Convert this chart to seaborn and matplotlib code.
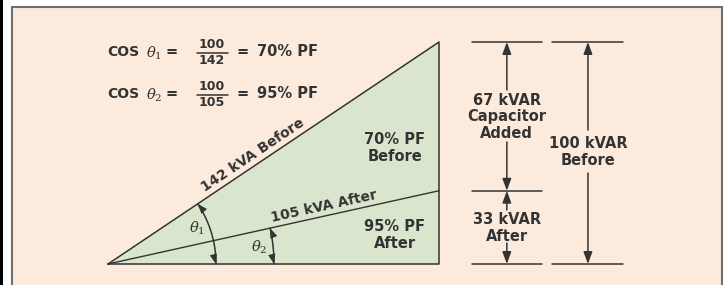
# Power factor correction triangle (kVA / kVAR) recreated with seaborn + matplotlib
import numpy as np
import matplotlib
matplotlib.use("Agg")
import matplotlib.pyplot as plt
from matplotlib.patches import Rectangle
import seaborn as sns

sns.set_theme(style="white")
plt.rcParams['font.family'] = ['DejaVu Sans']
plt.rcParams['mathtext.fontset'] = 'dejavuserif'

# ========== data ==========
kw = 100                      # real power, kW
kva = [142, 105]              # apparent power before / after
kvar = [100, 33]              # reactive power before / after
kvar_added = 67               # capacitor kVAR added
pf = [70, 95]                 # power factor %
states = ["Before", "After"]

# ========== layout (pixel -> data scale) ==========
SX, SY = 3.31, 2.22           # px per unit
X0, Y0 = 108, 264             # pixel position of the triangle's origin
W, H = 724, 285

def px(x, y):
    return (x - X0) / SX, (Y0 - y) / SY

INK = '#333333'
PEACH = '#FCEBDD'
GREEN = '#D9E6CD'

fig = plt.figure(figsize=(W / 100, H / 100), dpi=100)
ax = fig.add_axes([0, 0, 1, 1])
ax.set_xlim(px(0, 0)[0], px(W, 0)[0])
ax.set_ylim(px(0, H)[1], px(0, 0)[1])
ax.axis('off')

# frame
bx0, by0 = px(12, 292)
bx1, by1 = px(722, 7)
ax.add_patch(Rectangle((bx0, by0), bx1 - bx0, by1 - by0, facecolor=PEACH,
                       edgecolor='#6e6e6e', lw=1.5, zorder=0))
lx0, ly0 = px(0, H)
lx1, ly1 = px(3, 0)
ax.add_patch(Rectangle((lx0, ly0), lx1 - lx0, ly1 - ly0, facecolor='black',
                       edgecolor='none', zorder=0))

# triangle
ax.fill([0, kw, kw], [0, 0, kvar[0]], color=GREEN, zorder=1, lw=0)
sns.lineplot(x=[0, kw, kw, 0], y=[0, 0, kvar[0], 0], sort=False, estimator=None,
             color=INK, lw=1.1, ax=ax, zorder=2)
sns.lineplot(x=[0, kw], y=[0, kvar[1]], sort=False, estimator=None,
             color=INK, lw=1.0, ax=ax, zorder=2)

tfont = dict(color=INK, fontweight='bold', fontsize=10.5)

# hypotenuse labels
for i, k in enumerate(kva):
    ang = np.degrees(np.arctan2(kvar[i] * SY, kw * SX))
    cx = [258, 326][i]
    t = (cx - X0) / (kw * SX)
    lx, ly = t * kw, t * kvar[i]
    off = 2.5
    lx += -off * np.sin(np.radians(ang)) / SX
    ly += off * np.cos(np.radians(ang)) / SY
    ax.text(lx, ly, f"{k} kVA {states[i]}", rotation=ang, rotation_mode='anchor',
            ha='center', va='bottom', color=INK, fontweight='bold', fontsize=10)

# angle arcs
radii = [108, 166]
for i in range(2):
    ang = np.arctan2(kvar[i] * SY, kw * SX)
    t = np.linspace(0, ang, 60)
    ax.plot(radii[i] * np.cos(t) / SX, radii[i] * np.sin(t) / SY, color=INK, lw=1.1, zorder=3)
    for a0, a1 in [(ang * 0.75, ang), (ang * 0.25, 0)]:
        ax.annotate('', xy=(radii[i] * np.cos(a1) / SX, radii[i] * np.sin(a1) / SY),
                    xytext=(radii[i] * np.cos(a0) / SX, radii[i] * np.sin(a0) / SY),
                    arrowprops=dict(arrowstyle='-|>,head_length=0.6,head_width=0.22',
                                    color=INK, lw=0, shrinkA=0, shrinkB=0,
                                    connectionstyle='arc3,rad=0.1'),
                    zorder=3)
ax.text(*px(197, 228), r'$\theta_1$', ha='center', va='center', color=INK, fontsize=10.5)
ax.text(*px(259, 247), r'$\theta_2$', ha='center', va='center', color=INK, fontsize=10.5)

# PF labels inside the triangle
ax.text(*px(395, 148), f"{pf[0]}% PF\n{states[0]}", ha='center', va='center',
        linespacing=1.1, **tfont)
ax.text(*px(395, 235), f"{pf[1]}% PF\n{states[1]}", ha='center', va='center',
        linespacing=1.1, **tfont)

# cos formulas
for i, yy in enumerate([52, 94]):
    ax.text(*px(107, yy), "COS", ha='left', va='center', color=INK,
            fontweight='bold', fontsize=10)
    ax.text(*px(146, yy + 1), rf'$\theta_{i + 1}$', ha='left', va='center',
            color=INK, fontsize=10.5)
    ax.text(*px(172, yy), "=", ha='center', va='center', **tfont)
    ax.text(*px(212, yy - 7), f"{kw}", ha='center', va='center', color=INK,
            fontweight='bold', fontsize=9)
    ax.text(*px(212, yy + 8), f"{kva[i]}", ha='center', va='center', color=INK,
            fontweight='bold', fontsize=9)
    fx0, fy = px(197, yy + 1)
    fx1, _ = px(228, yy + 1)
    ax.plot([fx0, fx1], [fy, fy], color=INK, lw=1.1)
    ax.text(*px(243, yy), "=", ha='center', va='center', **tfont)
    ax.text(*px(257, yy), f"{pf[i]}% PF", ha='left', va='center', **tfont)

# dimension lines
colL, colR = (120.5, 110, 131), (145, 134, 155.5)
for y in [kvar[0], kvar[1], 0]:
    ax.plot([colL[1], colL[2]], [y, y], color=INK, lw=1.1)
for y in [kvar[0], 0]:
    ax.plot([colR[1], colR[2]], [y, y], color=INK, lw=1.1)

arrow = dict(arrowstyle='-|>,head_length=0.6,head_width=0.22', color=INK, lw=1.1,
             shrinkA=0, shrinkB=0)

def dim(x, y_from, y_to):
    ax.annotate('', xy=(x, y_to), xytext=(x, y_from), arrowprops=arrow)

dim(colL[0], px(0, 90)[1], kvar[0])
dim(colL[0], px(0, 142)[1], kvar[1])
dim(colL[0], px(0, 210)[1], kvar[1])
dim(colL[0], px(0, 243)[1], 0)
dim(colR[0], px(0, 130)[1], kvar[0])
dim(colR[0], px(0, 173)[1], 0)

ax.text(colL[0], px(0, 117)[1], f"{kvar_added} kVAR\nCapacitor\nAdded", ha='center',
        va='center', linespacing=1.1, **tfont)
ax.text(colL[0], px(0, 228)[1], f"{kvar[1]} kVAR\n{states[1]}", ha='center',
        va='center', linespacing=1.1, **tfont)
ax.text(colR[0], px(0, 152)[1], f"{kvar[0]} kVAR\n{states[0]}", ha='center',
        va='center', linespacing=1.1, **tfont)

fig.savefig('out.png', dpi=100, facecolor='white')
